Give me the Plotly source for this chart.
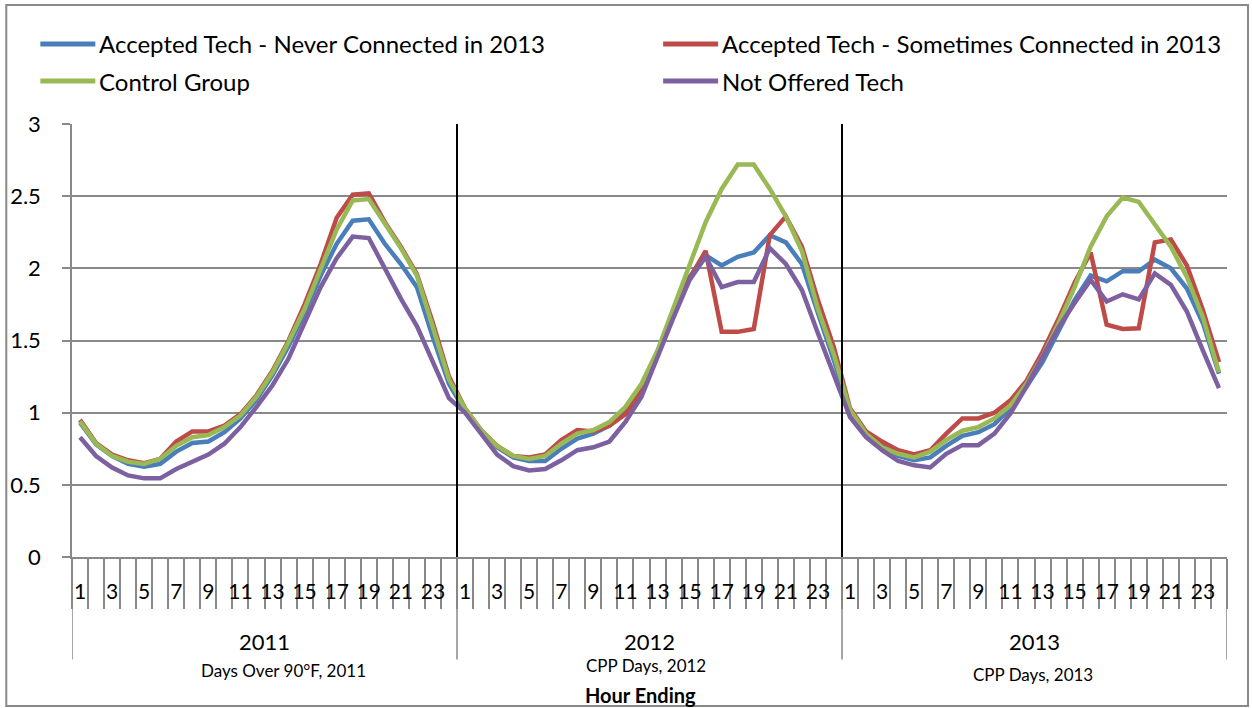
import plotly.graph_objects as go

# category levels of the x axis
years = ["2011", "2012", "2013"]
year_notes = ["Days Over 90°F, 2011", "CPP Days, 2012", "CPP Days, 2013"]
hours = list(range(1, 25))

# average hourly load (kW), one block of 24 values per year
never_connected = [
    0.93, 0.78, 0.70, 0.645, 0.625, 0.645, 0.73, 0.79, 0.80, 0.865, 0.96, 1.09,
    1.26, 1.46, 1.69, 1.95, 2.17, 2.33, 2.34, 2.17, 2.03, 1.87, 1.52, 1.20,
    1.01, 0.87, 0.76, 0.69, 0.665, 0.665, 0.75, 0.82, 0.855, 0.91, 1.02, 1.18,
    1.42, 1.71, 1.94, 2.09, 2.02, 2.08, 2.11, 2.23, 2.18, 2.03, 1.69, 1.36,
    1.00, 0.85, 0.77, 0.70, 0.67, 0.69, 0.77, 0.84, 0.865, 0.92, 1.03, 1.18,
    1.35, 1.56, 1.78, 1.95, 1.91, 1.98, 1.98, 2.06, 2.00, 1.86, 1.62, 1.27,
]
sometimes_connected = [
    0.95, 0.79, 0.71, 0.67, 0.65, 0.68, 0.80, 0.87, 0.87, 0.91, 0.99, 1.12,
    1.29, 1.50, 1.75, 2.03, 2.35, 2.51, 2.52, 2.32, 2.15, 1.96, 1.62, 1.25,
    1.03, 0.88, 0.77, 0.70, 0.69, 0.71, 0.81, 0.88, 0.87, 0.91, 0.99, 1.15,
    1.41, 1.71, 1.93, 2.12, 1.56, 1.56, 1.58, 2.23, 2.36, 2.15, 1.78, 1.45,
    1.03, 0.87, 0.80, 0.74, 0.71, 0.74, 0.855, 0.96, 0.96, 1.00, 1.085, 1.22,
    1.42, 1.65, 1.90, 2.11, 1.61, 1.58, 1.585, 2.18, 2.20, 2.02, 1.71, 1.35,
]
control_group = [
    0.94, 0.785, 0.70, 0.66, 0.645, 0.68, 0.77, 0.83, 0.845, 0.90, 0.98, 1.11,
    1.28, 1.49, 1.72, 1.99, 2.27, 2.47, 2.48, 2.31, 2.14, 1.95, 1.59, 1.23,
    1.03, 0.88, 0.77, 0.70, 0.68, 0.70, 0.785, 0.855, 0.88, 0.935, 1.04, 1.20,
    1.43, 1.72, 2.02, 2.32, 2.55, 2.72, 2.72, 2.55, 2.36, 2.12, 1.72, 1.40,
    1.02, 0.855, 0.76, 0.715, 0.69, 0.73, 0.81, 0.875, 0.90, 0.96, 1.05, 1.20,
    1.39, 1.62, 1.87, 2.15, 2.36, 2.49, 2.46, 2.31, 2.15, 1.94, 1.66, 1.28,
]
not_offered = [
    0.83, 0.70, 0.62, 0.565, 0.545, 0.545, 0.61, 0.66, 0.71, 0.785, 0.90, 1.04,
    1.19, 1.375, 1.62, 1.87, 2.07, 2.22, 2.21, 2.00, 1.79, 1.60, 1.35, 1.10,
    1.00, 0.855, 0.71, 0.63, 0.60, 0.61, 0.67, 0.74, 0.76, 0.80, 0.935, 1.11,
    1.39, 1.66, 1.92, 2.08, 1.87, 1.905, 1.905, 2.14, 2.03, 1.85, 1.55, 1.25,
    0.97, 0.83, 0.74, 0.665, 0.635, 0.62, 0.715, 0.775, 0.775, 0.855, 0.995, 1.18,
    1.39, 1.59, 1.76, 1.92, 1.77, 1.82, 1.785, 1.965, 1.885, 1.70, 1.43, 1.17,
]

series_names = [
    "Accepted Tech - Never Connected in 2013",
    "Accepted Tech - Sometimes Connected in 2013",
    "Control Group",
    "Not Offered Tech",
]
series_values = [never_connected, sometimes_connected, control_group, not_offered]
series_colors = ["#4A7EBB", "#BE4B48", "#98B954", "#7D60A0"]

FONT = "Lato, Carlito, Calibri, sans-serif"
GRID = "#898989"
n_h = len(hours)
x_idx = list(range(len(years) * n_h))
tick_vals = [i for i in x_idx if hours[i % n_h] % 2 == 1]
tick_text = [str(hours[i % n_h]) for i in tick_vals]

fig = go.Figure()
for name, vals, color in zip(series_names, series_values, series_colors):
    fig.add_trace(go.Scatter(
        x=x_idx, y=vals, name=name, mode="lines",
        line=dict(color=color, width=4.5), showlegend=False,
    ))

shapes = []
# black separators between years inside the plot
for k in range(1, len(years)):
    shapes.append(dict(type="line", xref="x", yref="paper",
                       x0=k * n_h - 0.5, x1=k * n_h - 0.5, y0=0, y1=1,
                       line=dict(color="black", width=2)))
# group dividers under the axis
for k in range(len(years) + 1):
    shapes.append(dict(type="line", xref="x", yref="paper",
                       x0=k * n_h - 0.5, x1=k * n_h - 0.5, y0=0, y1=-0.237,
                       line=dict(color=GRID, width=1.5)))

annotations = []
year_y = -0.194
note_y = [-0.261, -0.251, -0.2725]
note_x = [12.7, 35.3, 59.4]
for k, (yr, note) in enumerate(zip(years, year_notes)):
    annotations.append(dict(text=yr, x=k * n_h + (n_h - 1) / 2, y=year_y,
                            xref="x", yref="paper", showarrow=False,
                            xanchor="center", yanchor="middle",
                            font=dict(size=22, color="black")))
    annotations.append(dict(text=note, x=note_x[k], y=note_y[k],
                            xref="x", yref="paper", showarrow=False,
                            xanchor="center", yanchor="middle",
                            font=dict(size=17, color="black")))
annotations.append(dict(text="<b>Hour Ending</b>", x=0.492, y=-0.318,
                        xref="paper", yref="paper", showarrow=False,
                        xanchor="center", yanchor="middle",
                        font=dict(size=20, color="black")))

# hand-made legend: two columns, two rows
leg_x = [(-0.0274, 0.0202), (0.5118, 0.5594)]
leg_y = [1.1848, 1.0993]
for i, (name, color) in enumerate(zip(series_names, series_colors)):
    col, row = i % 2, i // 2
    x0, x1 = leg_x[col]
    shapes.append(dict(type="line", xref="paper", yref="paper",
                       x0=x0, x1=x1, y0=leg_y[row], y1=leg_y[row],
                       line=dict(color=color, width=5)))
    annotations.append(dict(text=name, x=x1 + 0.0015, y=leg_y[row],
                            xref="paper", yref="paper", xanchor="left",
                            yanchor="middle", showarrow=False,
                            font=dict(size=24, color="black")))

# chart frame
shapes.append(dict(type="rect", xref="paper", yref="paper",
                   x0=-0.0569, x1=1.0182, y0=-0.3441, y1=1.2748,
                   line=dict(color=GRID, width=2), layer="above"))

fig.update_xaxes(
    range=[-0.5, len(x_idx) - 0.5], automargin=False,
    tickmode="array", tickvals=tick_vals, ticktext=tick_text,
    ticks="", showgrid=False, showline=True, linecolor=GRID, linewidth=1.5,
    tickfont=dict(size=21, color="black", family=FONT),
    ticklabelstandoff=15,
    minor=dict(tickmode="linear", tick0=-0.5, dtick=1, ticks="outside",
               ticklen=50, tickcolor=GRID, tickwidth=1.5, showgrid=False),
    zeroline=False,
)
fig.update_yaxes(
    range=[0, 3], dtick=0.5, automargin=False,
    showgrid=True, gridcolor=GRID, gridwidth=1.5,
    showline=True, linecolor=GRID, linewidth=1.5,
    ticks="outside", ticklen=8, tickcolor=GRID, tickwidth=1.5,
    tickfont=dict(size=22, color="black", family=FONT),
    ticklabelstandoff=17, zeroline=False,
)
fig.update_layout(
    width=1252, height=708,
    margin=dict(l=72, r=25, t=124, b=151),
    paper_bgcolor="white", plot_bgcolor="white",
    font=dict(family=FONT, color="black"),
    shapes=shapes, annotations=annotations,
    showlegend=False,
)
fig.write_html("out.html", config={"displayModeBar": False},
               post_script="document.body.style.margin='0';")
